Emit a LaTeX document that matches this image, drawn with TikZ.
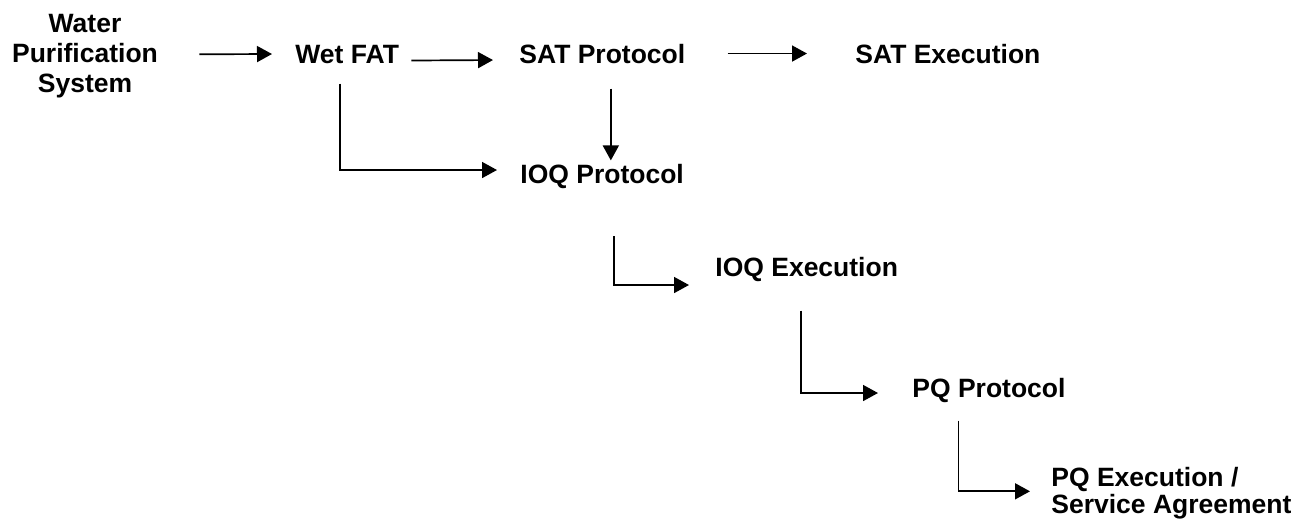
\documentclass[tikz,border=0pt]{standalone}
\usepackage{fontspec}
\setmainfont{Liberation Sans}
\usetikzlibrary{arrows.meta}

\begin{document}
\begin{tikzpicture}
  [x=0.5pt,y=-0.5pt,
   every node/.style={inner sep=0pt,font=\fontsize{13.25}{15}\selectfont\bfseries},
   arr/.style={-{Triangle[length=7.5pt,width=8pt]},line width=0.85pt}]
  \useasboundingbox (0,0) rectangle (1307,521);
  \node[align=center,anchor=north] (water) at (85,14) {Water\\Purification\\System};
  \node[anchor=base west] (wetfat)  at (295,63)  {Wet FAT};
  \node[anchor=base west] (satprot) at (519,63)  {SAT Protocol};
  \node[anchor=base west] (satexec) at (855,63)  {SAT Execution};
  \node[anchor=base west] (ioqprot) at (520,183) {IOQ Protocol};
  \node[anchor=base west] (ioqexec) at (715,276) {IOQ Execution};
  \node[anchor=base west] (pqprot)  at (912,397) {PQ Protocol};
  \node[align=left,anchor=north west,font=\fontsize{13.25}{13.5}\selectfont\bfseries]
    (pqexec) at (1051,467) {PQ Execution /\\Service Agreement};
  \coordinate (drop) at ([xshift=4.25pt,yshift=-12.5pt]satprot.south);

  \draw[arr] ([xshift=20.5pt,yshift=1pt]water.east) -- ([xshift=-11.5pt]wetfat.west);
  \draw[arr] ([xshift=6pt,yshift=-3.25pt]wetfat.east) -- ([xshift=-13pt,yshift=-3.25pt]satprot.west);
  \draw[arr] ([xshift=21pt]satprot.east) -- ([xshift=-24pt]satexec.west);
  \draw[arr] (drop) -- ([yshift=1.5pt]drop |- ioqprot.north);
  \draw[arr] ([xshift=-3.5pt,yshift=-10pt]wetfat.south) |- ([xshift=-11.5pt,yshift=3pt]ioqprot.west);
  \draw[arr] ([xshift=6pt,yshift=-23.75pt]ioqprot.south) |- ([xshift=-13pt,yshift=-8pt]ioqexec.west);
  \draw[arr] ([xshift=-3pt,yshift=-14.5pt]ioqexec.south) |- ([xshift=-17pt,yshift=-1.5pt]pqprot.west);
  \draw[arr] ([xshift=-15.25pt,yshift=-9pt]pqprot.south) |- ([xshift=-10.5pt,yshift=1pt]pqexec.west);
\end{tikzpicture}
\end{document}
